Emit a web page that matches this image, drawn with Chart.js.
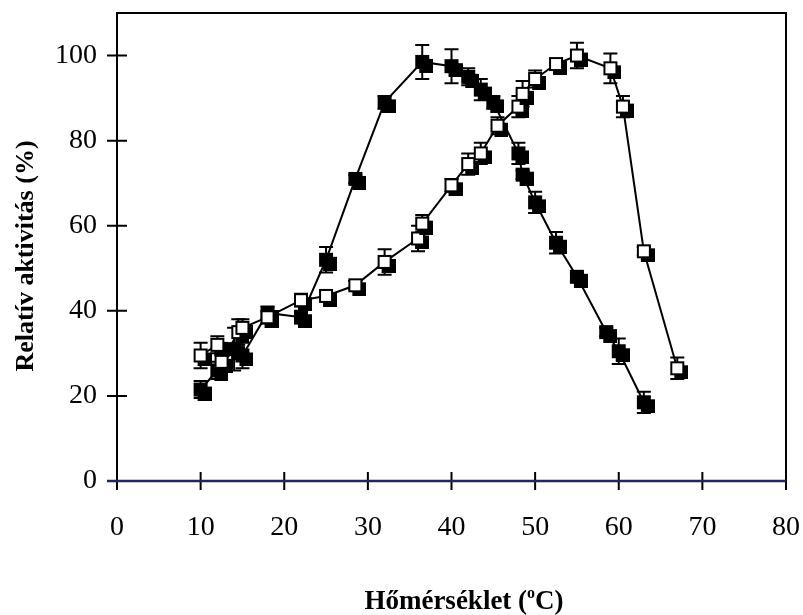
<!DOCTYPE html>
<html lang="hu">
<head>
<meta charset="UTF-8">
<title>Relatív aktivitás</title>
<script src="https://cdn.jsdelivr.net/npm/chart.js"></script>
<style>
  body { margin: 0; background: #fff; }
</style>
</head>
<body>
<canvas id="chart_akt" width="803" height="615"></canvas>

<script>
// teli négyzetek
var tempF = [10, 12, 14, 15, 18, 22, 25, 28.5, 32, 36.5, 40, 42, 43.5, 45, 48, 48.5, 50, 52.5, 55, 58.5, 60, 63];
var aktF  = [21.5, 26, 31, 29.5, 39.5, 38.5, 52, 71, 89, 98.5, 97.5, 95, 92, 89, 77, 72, 65.5, 56, 48, 35, 30.5, 18.5];
var hibaF = [2, 2, 5, 3, 1.5, 1.5, 3, 1, 1.5, 4, 4, 2, 2.5, 1.5, 2.5, 1, 2.5, 2.5, 1, 1, 3, 2.5];

// üres négyzetek
var tempO = [10, 12, 12.5, 14.5, 15, 18, 22, 25, 28.5, 32, 36, 36.5, 40, 42, 43.5, 45.5, 48, 48.5, 50, 52.5, 55, 59, 60.5, 63, 67];
var aktO  = [29.5, 32, 28, 35, 36, 38.5, 42.5, 43.5, 46, 51.5, 57, 60.5, 69.5, 74.5, 77, 83.5, 88, 91, 94.5, 98, 100, 97, 88, 54, 26.5];
var hibaO = [3, 2, 2, 3, 2, 1.5, 1.5, 1, 1, 3, 3, 2, 1.5, 2.5, 2.5, 2, 2.5, 3, 2, 1, 3, 3.5, 2.5, 1, 2.5];

var xTicks = [0, 10, 20, 30, 40, 50, 60, 70, 80];
var yTicks = [0, 20, 40, 60, 80, 100];

function toPoints(xs, ys) {
  return xs.map(function (x, i) { return { x: x, y: ys[i] }; });
}

// négyzet jelölő árnyékkal
function marker(fill) {
  var s = 14, d = 4;
  var c = document.createElement('canvas');
  c.width = s + 2 * d; c.height = s + 2 * d;
  var g = c.getContext('2d');
  g.fillStyle = '#000';
  g.fillRect(2 * d, 2 * d, s, s);
  g.fillStyle = fill;
  g.fillRect(d, d, s, s);
  g.strokeStyle = '#000';
  g.lineWidth = 2;
  g.strokeRect(d + 1, d + 1, s - 2, s - 2);
  return c;
}

var errorBars = {
  id: 'errorBars',
  beforeDatasetsDraw: function (chart) {
    var ctx = chart.ctx, xs = chart.scales.x, ys = chart.scales.y;
    ctx.save();
    ctx.strokeStyle = '#000';
    ctx.lineWidth = 2;
    [[tempF, aktF, hibaF], [tempO, aktO, hibaO]].forEach(function (s) {
      for (var i = 0; i < s[0].length; i++) {
        var px = xs.getPixelForValue(s[0][i]);
        var top = ys.getPixelForValue(s[1][i] + s[2][i]);
        var bot = ys.getPixelForValue(s[1][i] - s[2][i]);
        ctx.beginPath();
        ctx.moveTo(px, top); ctx.lineTo(px, bot);
        ctx.moveTo(px - 7, top); ctx.lineTo(px + 7, top);
        ctx.moveTo(px - 7, bot); ctx.lineTo(px + 7, bot);
        ctx.stroke();
      }
    });
    ctx.restore();
  }
};

var frame = {
  id: 'frame',
  afterDraw: function (chart) {
    var ctx = chart.ctx, a = chart.chartArea, xs = chart.scales.x, ys = chart.scales.y;
    ctx.save();
    ctx.lineWidth = 2;
    ctx.strokeStyle = '#000';
    ctx.beginPath();
    ctx.moveTo(a.left, a.bottom); ctx.lineTo(a.left, a.top);
    ctx.lineTo(a.right, a.top); ctx.lineTo(a.right, a.bottom);
    ctx.stroke();
    // tick jelek
    ctx.beginPath();
    xTicks.forEach(function (v) {
      var p = xs.getPixelForValue(v);
      ctx.moveTo(p, a.bottom - 9); ctx.lineTo(p, a.bottom + 9);
    });
    yTicks.forEach(function (v) {
      var p = ys.getPixelForValue(v);
      ctx.moveTo(a.left - 10, p); ctx.lineTo(a.left + 10, p);
    });
    ctx.stroke();
    ctx.strokeStyle = '#23265c';
    ctx.lineWidth = 2.5;
    ctx.beginPath();
    ctx.moveTo(a.left - 10, a.bottom); ctx.lineTo(a.right, a.bottom);
    ctx.stroke();

    // tengelyfeliratok
    ctx.fillStyle = '#000';
    ctx.font = 'bold 26px "Liberation Serif"';
    ctx.textAlign = 'center';
    ctx.textBaseline = 'middle';
    ctx.save();
    ctx.translate(26, 256);
    ctx.rotate(-Math.PI / 2);
    ctx.fillText('Relatív aktivitás (%)', 0, 0);
    ctx.restore();

    var p1 = 'Hőmérséklet (', p2 = 'o', p3 = 'C)';
    ctx.textAlign = 'left';
    ctx.textBaseline = 'alphabetic';
    ctx.font = 'bold 27px "Liberation Serif"';
    var w1 = ctx.measureText(p1).width, w3 = ctx.measureText(p3).width;
    ctx.font = 'bold 16px "Liberation Serif"';
    var w2 = ctx.measureText(p2).width;
    var x0 = 464 - (w1 + w2 + w3) / 2, y0 = 609;
    ctx.font = 'bold 27px "Liberation Serif"';
    ctx.fillText(p1, x0, y0);
    ctx.font = 'bold 16px "Liberation Serif"';
    ctx.fillText(p2, x0 + w1, y0 - 11);
    ctx.font = 'bold 27px "Liberation Serif"';
    ctx.fillText(p3, x0 + w1 + w2, y0);
    ctx.restore();
  }
};

var ctx_akt = document.getElementById('chart_akt').getContext('2d');
var chart_akt = new Chart(ctx_akt, {
  type: 'scatter',
  data: {
    datasets: [{
      label: 'üres',
      data: toPoints(tempO, aktO),
      showLine: true,
      borderColor: '#000',
      borderWidth: 2,
      pointStyle: marker('#fff'),
      pointRadius: 11,
      pointHoverRadius: 11
    }, {
      label: 'teli',
      data: toPoints(tempF, aktF),
      showLine: true,
      borderColor: '#000',
      borderWidth: 2,
      pointStyle: marker('#000'),
      pointRadius: 11,
      pointHoverRadius: 11
    }]
  },
  options: {
    responsive: false,
    animation: false,
    layout: { padding: { left: 0, right: 17, top: 13, bottom: 0 } },
    plugins: { legend: { display: false }, tooltip: { enabled: false } },
    scales: {
      x: {
        type: 'linear',
        min: 0, max: 80,
        afterFit: function (s) { s.height = 134; s.paddingLeft = 0; s.paddingRight = 0; },
        afterBuildTicks: function (s) { s.ticks = xTicks.map(function (v) { return { value: v }; }); },
        grid: { display: false, drawTicks: false },
        border: { display: false },
        ticks: { color: '#000', padding: 30, font: { family: 'Liberation Serif', size: 28 } }
      },
      y: {
        type: 'linear',
        min: 0, max: 110,
        afterFit: function (s) { s.width = 117; s.paddingTop = 0; s.paddingBottom = 0; },
        afterBuildTicks: function (s) { s.ticks = yTicks.map(function (v) { return { value: v }; }); },
        grid: { display: false, drawTicks: false },
        border: { display: false },
        ticks: { color: '#000', padding: 20, font: { family: 'Liberation Serif', size: 28 } }
      }
    }
  },
  plugins: [errorBars, frame]
});
</script>
</body>
</html>
